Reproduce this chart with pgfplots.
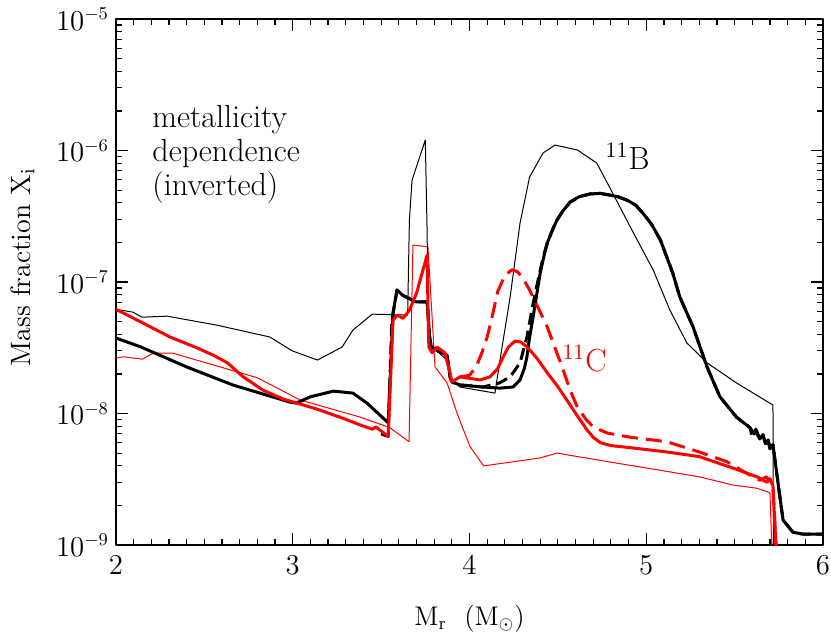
\documentclass[border=0pt]{standalone}
\usepackage{pgfplots}
\pgfplotsset{compat=1.18}
\begin{document}
\begin{tikzpicture}
\useasboundingbox (-58pt,-44.5pt) rectangle (357.5pt,272.5pt);
\begin{axis}[
  scale only axis,
  width=353.5pt, height=263pt,
  xmin=2, xmax=6,
  ymode=log, ymin=1e-9, ymax=1e-5,
  xtick={2,3,4,5,6},
  minor x tick num=9,
  ytick={1e-9,1e-8,1e-7,1e-6,1e-5},
  tick align=inside,
  major tick length=6pt, minor tick length=3pt,
  axis line style={line width=0.8pt},
  every tick/.style={black, line width=0.6pt},
  font=\fontsize{13.5}{16}\selectfont,
  xticklabel style={yshift=-2pt},
  xlabel={M$_{\rm r}$\ \ (M$_\odot$)},
  ylabel={Mass fraction X$_{\rm i}$},
  xlabel style={at={(axis description cs:0.5,0)}, anchor=base, yshift=-40pt, font=\fontsize{13.5}{16}\selectfont},
  ylabel style={at={(axis description cs:-0.1216,0.528)}, anchor=base, font=\fontsize{14}{16}\selectfont},
  clip=true,
  line join=round,
]
% thin red
\addplot[red, line width=0.5pt] coordinates {
(2.00,2.64e-8)(2.04,2.7e-8)(2.15,2.59e-8)(2.21,2.88e-8)(2.32,2.88e-8)
(2.80,1.87e-8)(3.04,1.27e-8)(3.38,9.4e-9)(3.55,7.8e-9)(3.658,6.1e-9)
(3.68,1.91e-7)(3.765,1.85e-7)(3.805,2.26e-8)(3.873,1.71e-8)(3.93,1.0e-8)
(4.003,5.6e-9)(4.08,4.0e-9)(4.25,4.3e-9)(4.40,4.6e-9)(4.495,5.0e-9)
(4.74,4.4e-9)(5.08,3.7e-9)(5.30,3.3e-9)(5.49,2.86e-9)(5.627,2.7e-9)
(5.70,2.5e-9)(5.717,5e-10)};
% thin black
\addplot[black, line width=0.5pt] coordinates {
(2.00,6.2e-8)(2.096,5.9e-8)(2.147,5.4e-8)(2.29,5.5e-8)(2.57,4.7e-8)
(2.87,3.82e-8)(2.996,3.0e-8)(3.14,2.55e-8)(3.28,3.21e-8)(3.34,4.3e-8)
(3.45,5.7e-8)(3.65,5.6e-8)(3.66,2.96e-7)(3.675,5.97e-7)(3.75,1.2e-6)
(3.76,2.49e-7)(3.765,7.7e-8)(3.777,4.1e-8)(3.79,3.2e-8)(3.873,2.55e-8)
(3.89,1.9e-8)(3.946,1.59e-8)(4.144,1.43e-8)(4.17,2.43e-8)(4.23,7.7e-8)
(4.286,2.81e-7)(4.34,6.29e-7)(4.416,9.57e-7)(4.484,1.10e-6)(4.61,1.01e-6)
(4.72,8.03e-7)(4.81,4.75e-7)(4.91,2.62e-7)(5.04,1.23e-7)(5.134,6.1e-8)
(5.23,3.44e-8)(5.344,2.43e-8)(5.51,1.71e-8)(5.717,1.16e-8)(5.72,5e-10)};
% thick black dashed
\addplot[black, line width=1.5pt, dash pattern=on 6pt off 3pt] coordinates {
(3.50,7.0e-9)(3.54,6.7e-9)(3.56,5.0e-8)(3.59,8.7e-8)(3.62,7.97e-8)
(3.675,7.3e-8)(3.70,7.05e-8)(3.76,7.05e-8)(3.765,5.8e-8)(3.777,3.3e-8)
(3.793,3.15e-8)(3.833,2.94e-8)(3.873,2.78e-8)(3.89,1.9e-8)(3.90,1.74e-8)
(3.946,1.65e-8)(4.076,1.59e-8)(4.17,1.71e-8)(4.23,1.9e-8)(4.286,2.43e-8)
(4.325,3.82e-8)(4.36,6.9e-8)(4.40,1.23e-7)(4.42,1.6e-7)(4.44,1.98e-7)
(4.47,2.5e-7)(4.495,2.96e-7)(4.53,3.5e-7)(4.57,4.06e-7)(4.62,4.45e-7)
(4.68,4.67e-7)(4.74,4.72e-7)(4.795,4.58e-7)(4.84,4.45e-7)(4.89,4.20e-7)
(4.94,3.85e-7)(4.98,3.35e-7)(5.03,2.75e-7)(5.08,2.09e-7)(5.12,1.5e-7)
(5.15,1.17e-7)(5.19,7.69e-8)(5.265,4.55e-8)(5.344,2.26e-8)(5.417,1.34e-8)
(5.51,9.4e-9)(5.587,7.8e-9)(5.60,6.6e-9)(5.615,7.4e-9)(5.643,6.4e-9)
(5.66,6.9e-9)(5.675,5.9e-9)(5.69,6.3e-9)(5.70,5.4e-9)(5.717,5.8e-9)
(5.745,3.0e-9)(5.774,1.55e-9)(5.83,1.25e-9)(5.887,1.21e-9)(6.0,1.21e-9)};
% thick black solid
\addplot[black, line width=1.5pt] coordinates {
(2.00,3.75e-8)(2.14,3.21e-8)(2.40,2.26e-8)(2.66,1.65e-8)(2.985,1.22e-8)
(3.02,1.20e-8)(3.10,1.34e-8)(3.23,1.48e-8)(3.34,1.43e-8)(3.42,1.20e-8)
(3.54,8.5e-9)(3.567,5.8e-8)(3.59,8.7e-8)(3.62,7.97e-8)(3.675,7.3e-8)
(3.70,7.05e-8)(3.76,7.05e-8)(3.765,5.8e-8)(3.777,3.3e-8)(3.793,3.15e-8)
(3.833,2.94e-8)(3.873,2.78e-8)(3.89,1.9e-8)(3.90,1.74e-8)(3.946,1.65e-8)
(4.076,1.59e-8)(4.17,1.56e-8)(4.246,1.59e-8)(4.286,1.80e-8)(4.31,2.2e-8)
(4.325,2.69e-8)(4.34,3.8e-8)(4.36,5.42e-8)(4.38,8.0e-8)(4.40,1.17e-7)
(4.42,1.55e-7)(4.44,1.98e-7)(4.47,2.5e-7)(4.495,2.96e-7)(4.53,3.5e-7)
(4.57,4.06e-7)(4.62,4.45e-7)(4.68,4.67e-7)(4.74,4.72e-7)(4.795,4.58e-7)
(4.84,4.45e-7)(4.89,4.20e-7)(4.94,3.85e-7)(4.98,3.35e-7)(5.03,2.75e-7)
(5.08,2.09e-7)(5.12,1.5e-7)(5.15,1.17e-7)(5.19,7.69e-8)(5.265,4.55e-8)
(5.344,2.26e-8)(5.417,1.34e-8)(5.51,9.4e-9)(5.587,7.8e-9)(5.61,7.0e-9)
(5.62,7.6e-9)(5.643,6.4e-9)(5.66,6.9e-9)(5.675,5.9e-9)(5.69,6.3e-9)
(5.70,5.4e-9)(5.717,5.8e-9)(5.745,3.0e-9)(5.774,1.55e-9)(5.83,1.25e-9)
(5.887,1.21e-9)(6.0,1.21e-9)};
% thick red dashed
\addplot[red, line width=1.5pt, dash pattern=on 8pt off 4pt] coordinates {
(3.946,1.9e-8)(4.00,1.95e-8)(4.04,2.3e-8)(4.07,2.9e-8)(4.10,3.82e-8)
(4.13,5.6e-8)(4.16,8.5e-8)(4.20,1.12e-7)(4.24,1.24e-7)(4.27,1.2e-7)
(4.30,1.08e-7)(4.34,8.7e-8)(4.39,6.3e-8)(4.44,4.55e-8)(4.49,3.0e-8)
(4.53,2.14e-8)(4.57,1.5e-8)(4.61,1.12e-8)(4.66,9.0e-9)(4.70,7.9e-9)
(4.78,7.1e-9)(4.91,6.6e-9)(5.117,6.1e-9)(5.30,5.1e-9)(5.457,4.3e-9)
(5.57,3.5e-9)(5.643,3.1e-9)(5.68,3.3e-9)(5.717,2.8e-9)(5.745,5e-10)};
% thick red solid
\addplot[red, line width=1.5pt] coordinates {
(2.00,6.2e-8)(2.15,4.9e-8)(2.305,3.82e-8)(2.46,3.15e-8)(2.55,2.78e-8)
(2.63,2.43e-8)(2.72,1.90e-8)(2.83,1.51e-8)(2.945,1.29e-8)(3.024,1.20e-8)
(3.137,1.08e-8)(3.284,9.2e-9)(3.38,8.2e-9)(3.45,7.6e-9)(3.47,7.9e-9)
(3.54,6.7e-9)(3.567,5.1e-8)(3.59,5.6e-8)(3.624,5.3e-8)(3.66,6.1e-8)
(3.70,8.2e-8)(3.76,1.60e-7)(3.765,6.45e-8)(3.77,3.2e-8)(3.788,2.9e-8)
(3.816,3.2e-8)(3.86,2.9e-8)(3.89,2.04e-8)(3.90,1.74e-8)(3.946,1.9e-8)
(4.06,1.80e-8)(4.116,1.9e-8)(4.16,2.2e-8)(4.19,2.69e-8)(4.22,3.2e-8)
(4.257,3.55e-8)(4.29,3.5e-8)(4.325,3.21e-8)(4.38,2.65e-8)(4.44,2.04e-8)
(4.50,1.6e-8)(4.55,1.27e-8)(4.61,9.6e-9)(4.665,7.5e-9)(4.70,6.6e-9)
(4.74,6.0e-9)(4.80,5.7e-9)(4.91,5.5e-9)(5.117,5.1e-9)(5.30,4.7e-9)
(5.49,3.85e-9)(5.627,3.3e-9)(5.683,3.0e-9)(5.70,3.2e-9)(5.717,2.8e-9)
(5.745,5e-10)};
\node[anchor=north west, align=left, inner sep=0pt, font=\fontsize{16}{17}\selectfont]
  at (rel axis cs:0.051,0.836) {metallicity\\dependence\\(inverted)};
\node[anchor=base west, inner sep=0pt, font=\fontsize{16}{18}\selectfont]
  at (rel axis cs:0.692,0.713) {$^{11}$B};
\node[anchor=base west, inner sep=0pt, red, font=\fontsize{16}{18}\selectfont]
  at (rel axis cs:0.631,0.329) {$^{11}$C};
\end{axis}
\end{tikzpicture}
\end{document}
